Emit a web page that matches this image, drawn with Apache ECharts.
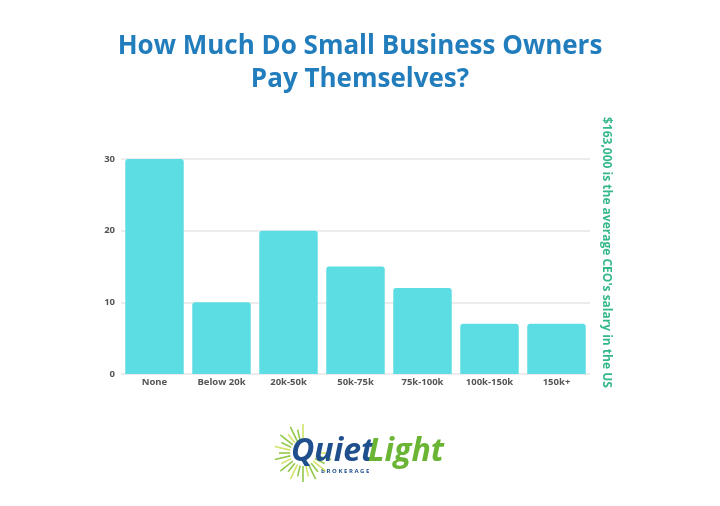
<!DOCTYPE html>
<html><head><meta charset="utf-8">
<script src="https://cdn.jsdelivr.net/npm/echarts@6/dist/echarts.min.js"></script>
<style>html,body{margin:0;padding:0;background:#fff}#c{width:720px;height:506px}</style>
</head><body><div id="c"></div>
<script>
const categories = ["None","Below 20k","20k-50k","50k-75k","75k-100k","100k-150k","150k+"];
const values = [30,10,20,15,12,7,7];
const yTicks = [0,10,20,30];
const titleLines = ["How Much Do Small Business Owners","Pay Themselves?"];
const sideNote = "$163,000 is the average CEO's salary in the US";

const chart = echarts.init(document.getElementById('c'));
// sunburst rays for logo
const rays = [];
const cx = 303, cy = 453;
for (let i = 0; i < 22; i++) {
  const a = Math.PI * 0.5 + i * (Math.PI * 1.5 / 21);
  const r1 = 13, r2 = (i % 2 ? 24 : 29);
  rays.push({type:'line', z:1, shape:{x1:cx+Math.cos(a)*r1,y1:cy-Math.sin(a)*r1,x2:cx+Math.cos(a)*r2,y2:cy-Math.sin(a)*r2},
    style:{stroke: i%3===0 ? '#d3e36a' : '#92c84a', lineWidth:1.6}});
}
chart.setOption({
  backgroundColor:'#fff',
  title:{text:titleLines.join('\n'), left:'center', top:25,
    textStyle:{fontFamily:'Open Sans', fontSize:26, fontWeight:'bold', color:'#227dbd', lineHeight:33}},
  grid:{left:121, right:130, top:159, bottom:132},
  xAxis:{type:'category', data:categories,
    axisLine:{show:false}, axisTick:{show:false},
    axisLabel:{fontFamily:'Open Sans', fontSize:9.5, color:'#555', fontWeight:'bold', margin:3}},
  yAxis:{type:'value', min:0, max:30, interval:10,
    axisLabel:{fontFamily:'Open Sans', fontSize:9.5, color:'#555', fontWeight:'bold', margin:6},
    splitLine:{lineStyle:{color:'#e6e6e6', width:1.5}}},
  series:[{type:'bar', data:values, barCategoryGap:'12.7%',
    itemStyle:{color:'#5cdde3', borderRadius:[3,3,0,0]}}],
  graphic:[
    {type:'text', x:600, y:117, rotation:-Math.PI/2,
      style:{text:sideNote, fill:'#33b888', font:'bold 12px "Open Sans"', textAlign:'left', textVerticalAlign:'bottom'}},
    ...rays,
    {type:'text', z:2, left:291, top:436, style:{text:'Quiet', fill:'#1f4f8c', font:'italic bold 32px "Open Sans"'}},
    {type:'text', z:2, left:368, top:436, style:{text:'Light', fill:'#6bb534', font:'italic bold 32px "Open Sans"'}},
    {type:'text', left:321, top:468, style:{text:'B R O K E R A G E', fill:'#1f4f8c', font:'bold 6px "Open Sans"'}}
  ]
});
</script></body></html>
